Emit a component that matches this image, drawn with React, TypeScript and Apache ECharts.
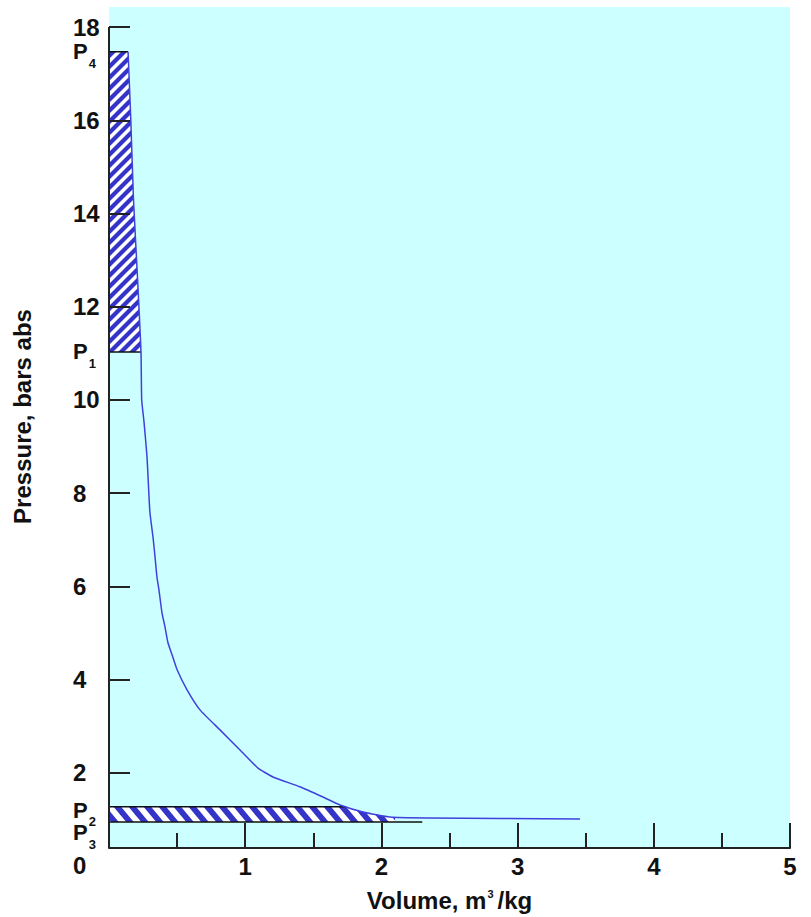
import React, { useEffect, useRef } from 'react';
import * as echarts from 'echarts';

// Expansion curve (volume m3/kg, pressure bar abs)
const curveVolume = [0.14, 0.16, 0.18, 0.21, 0.235, 0.24, 0.257, 0.279, 0.3, 0.323, 0.338, 0.352, 0.367, 0.389, 0.411, 0.433, 0.463, 0.5, 0.573, 0.668, 0.815, 0.962, 1.094, 1.204, 1.402, 1.571, 1.696, 1.865, 2.063, 2.335, 3.458];
const curvePressure = [17.47, 16.01, 14.29, 12.58, 11.03, 10.0, 9.53, 8.78, 7.6, 7.06, 6.63, 6.2, 5.92, 5.43, 5.13, 4.79, 4.53, 4.21, 3.78, 3.35, 2.92, 2.49, 2.1, 1.91, 1.7, 1.48, 1.31, 1.16, 1.05, 1.03, 1.01];

// Pressure levels P4, P1, P2, P3
const levelSubs = ['4', '1', '2', '3'];
const levelPressure = [17.47, 11.03, 1.27, 0.944];
const levelLabelAt = [17.47, 11.03, 1.2, 0.71];

const yTickValues = [2, 4, 6, 8, 10, 12, 14, 16, 18];
const yZeroLabel = [0];
const xTickValues = [0, 1, 2, 3, 4, 5];

const Y_MAX = 18.43;
const X_MAX = 5;
const X_AXIS_AT = 0.386;
const BAND_HATCH_END = 2.1;
const BAND_LINE_END = 2.3;

const GRID = { left: 109, right: 21, top: 7, bottom: 51 };
const H = 917;

function stripes(w: number, h: number, dir: string, lineWidth: number, color: string) {
  const c = document.createElement('canvas');
  c.width = w;
  c.height = h;
  const ctx = c.getContext('2d')!;
  ctx.fillStyle = '#ffffff';
  ctx.fillRect(0, 0, w, h);
  ctx.strokeStyle = color;
  ctx.lineWidth = lineWidth;
  for (const k of [-w, 0, w]) {
    ctx.beginPath();
    if (dir === '/') {
      ctx.moveTo(k - w * 0.5, h * 1.5);
      ctx.lineTo(k + w * 1.5, -h * 0.5);
    } else {
      ctx.moveTo(k - w * 0.5, -h * 0.5);
      ctx.lineTo(k + w * 1.5, h * 1.5);
    }
    ctx.stroke();
  }
  return { image: c, repeat: 'repeat', imageWidth: w, imageHeight: h } as any;
}

function pressureAt(v: number) {
  for (let i = 1; i < curveVolume.length; i++) {
    if (v <= curveVolume[i]) {
      const t = (v - curveVolume[i - 1]) / (curveVolume[i] - curveVolume[i - 1]);
      return curvePressure[i - 1] + t * (curvePressure[i] - curvePressure[i - 1]);
    }
  }
  return curvePressure[curvePressure.length - 1];
}

function volumeAt(p: number) {
  for (let i = 1; i < curvePressure.length; i++) {
    const p0 = curvePressure[i - 1];
    const p1 = curvePressure[i];
    if (p0 >= p && p1 <= p) {
      const t = p0 === p1 ? 0 : (p0 - p) / (p0 - p1);
      return curveVolume[i - 1] + t * (curveVolume[i] - curveVolume[i - 1]);
    }
  }
  return curveVolume[0];
}

export default function App() {
  const ref = useRef<HTMLDivElement>(null);

  useEffect(() => {
    if (!ref.current) return;
    const chart = echarts.init(ref.current, null, { renderer: 'svg' });
    const patLeft = stripes(11, 11, '/', 4.2, '#3434c8');
    const patBand = stripes(15, 18, '\\', 5.8, '#3434c8');
    const [P4, P1, P2, P3] = levelPressure;
    const plotH = H - GRID.top - GRID.bottom;
    const xAxisOffset = -(X_AXIS_AT * plotH) / Y_MAX;

    const renderItem = (params: any, api: any) => {
      const pt = (v: number, p: number) => api.coord([v, p]);
      const leftPts: number[][] = [pt(0, P4)];
      curveVolume.forEach((v, i) => {
        const p = curvePressure[i];
        if (p <= P4 + 1e-9 && p >= P1 - 1e-9) leftPts.push(pt(v, p));
      });
      leftPts.push(pt(0, P1));

      const vTop = volumeAt(P2);
      const bandPts: number[][] = [pt(0, P2), pt(vTop, P2)];
      curveVolume.forEach((v, i) => {
        if (v > vTop && v < BAND_HATCH_END) bandPts.push(pt(v, curvePressure[i]));
      });
      bandPts.push(pt(BAND_HATCH_END, pressureAt(BAND_HATCH_END)));
      bandPts.push(pt(BAND_HATCH_END, P3));
      bandPts.push(pt(0, P3));

      const edge = (a: number[], b: number[]) => ({
        type: 'line',
        shape: { x1: a[0], y1: a[1], x2: b[0], y2: b[1] },
        style: { stroke: '#111', lineWidth: 1.5 },
      });

      return {
        type: 'group',
        children: [
          { type: 'polygon', shape: { points: leftPts }, style: { fill: patLeft, stroke: null } },
          { type: 'polygon', shape: { points: bandPts }, style: { fill: patBand, stroke: null } },
          edge(pt(0, P4), pt(curveVolume[0], P4)),
          edge(pt(0, P1), pt(volumeAt(P1), P1)),
          edge(pt(0, P2), pt(vTop, P2)),
          edge(pt(0, P3), pt(BAND_LINE_END, P3)),
        ],
      };
    };

    const labelFormatter = (v: number) => {
      const i = levelLabelAt.findIndex((p) => Math.abs(p - v) < 1e-6);
      if (i >= 0) return `{p|P}{sub|${levelSubs[i]}}{gap| }`;
      return `{num|${v}}`;
    };

    // P-labels listed between 0 and the numeric ticks so that the first/last
    // label checks of the axis never see two neighbouring labels overlapping
    const yLabelValues = [...yZeroLabel, ...[...levelLabelAt].sort((a, b) => a - b), ...yTickValues];

    const option: any = {
      animation: false,
      textStyle: { fontFamily: '"Liberation Sans", Arial, sans-serif', fontWeight: 'bold', color: '#111' },
      grid: { ...GRID, containLabel: false },
      xAxis: {
        type: 'value',
        min: xTickValues[0],
        max: X_MAX,
        interval: 1,
        offset: xAxisOffset,
        z: 10,
        axisLine: { show: true, onZero: false, lineStyle: { color: '#222', width: 2 } },
        axisTick: { show: true, inside: true, length: 25, lineStyle: { color: '#222', width: 2 } },
        minorTick: { show: true, splitNumber: 2, length: 15, lineStyle: { color: '#222', width: 2 } },
        splitLine: { show: false },
        axisLabel: {
          fontSize: 24,
          fontWeight: 'bold',
          color: '#111',
          margin: 6,
          formatter: (v: number) => (v === 0 ? '' : String(v)),
        },
        name: 'Volume, m{sup|3}/kg',
        nameLocation: 'middle',
        nameGap: 40,
        nameTextStyle: {
          fontSize: 24,
          fontWeight: 'bold',
          color: '#111',
          lineHeight: 24,
          rich: { sup: { fontSize: 11, fontWeight: 'bold', color: '#111', lineHeight: 18, verticalAlign: 'top', padding: [0, 4, 0, 1] } },
        },
      },
      yAxis: {
        type: 'value',
        min: 0,
        max: Y_MAX,
        z: 10,
        axisLine: { show: false },
        axisTick: { show: true, inside: true, length: 21, customValues: yTickValues, lineStyle: { color: '#222', width: 2 } },
        splitLine: { show: false },
        axisLabel: {
          customValues: yLabelValues,
          align: 'left',
          margin: 36,
          hideOverlap: false,
          showMinLabel: true,
          showMaxLabel: true,
          formatter: labelFormatter,
          rich: {
            num: { fontSize: 24, fontWeight: 'bold', color: '#111', lineHeight: 24 },
            p: { fontSize: 22, fontWeight: 'bold', color: '#111', lineHeight: 22, verticalAlign: 'middle' },
            sub: { fontSize: 13, fontWeight: 'bold', color: '#111', lineHeight: 14, verticalAlign: 'bottom', padding: [0, 0, 0, 1] },
            gap: { fontSize: 1, lineHeight: 36, verticalAlign: 'middle' },
          },
        },
        name: 'Pressure, bars abs',
        nameLocation: 'middle',
        nameGap: 75,
        nameTextStyle: { fontSize: 24, fontWeight: 'bold', color: '#111', padding: [0, 0, 0, 40] },
      },
      series: [
        {
          type: 'line',
          z: 1,
          silent: true,
          data: [[0, X_AXIS_AT]],
          showSymbol: false,
          symbol: 'none',
          lineStyle: { width: 0 },
          markArea: {
            silent: true,
            itemStyle: { color: '#ccffff' },
            data: [[{ coord: [0, X_AXIS_AT] }, { coord: [X_MAX, Y_MAX] }]],
          },
        },
        {
          type: 'custom',
          z: 2,
          silent: true,
          clip: false,
          data: [[0, 0]],
          renderItem,
        },
        {
          type: 'line',
          z: 5,
          silent: true,
          data: curveVolume.map((v, i) => [v, curvePressure[i]]),
          showSymbol: false,
          symbol: 'none',
          smooth: 0.15,
          lineStyle: { color: '#4040dd', width: 1.5 },
          markLine: {
            silent: true,
            symbol: 'none',
            label: { show: false },
            lineStyle: { color: '#222', width: 2, type: 'solid' },
            data: [[{ coord: [0, X_AXIS_AT] }, { coord: [0, yTickValues[yTickValues.length - 1]] }]],
          },
        },
      ],
    };
    chart.setOption(option);
    return () => chart.dispose();
  }, []);

  return (
    <div
      ref={ref}
      style={{ position: 'fixed', left: 0, top: 0, width: 811, height: 917, background: '#ffffff' }}
    />
  );
}
